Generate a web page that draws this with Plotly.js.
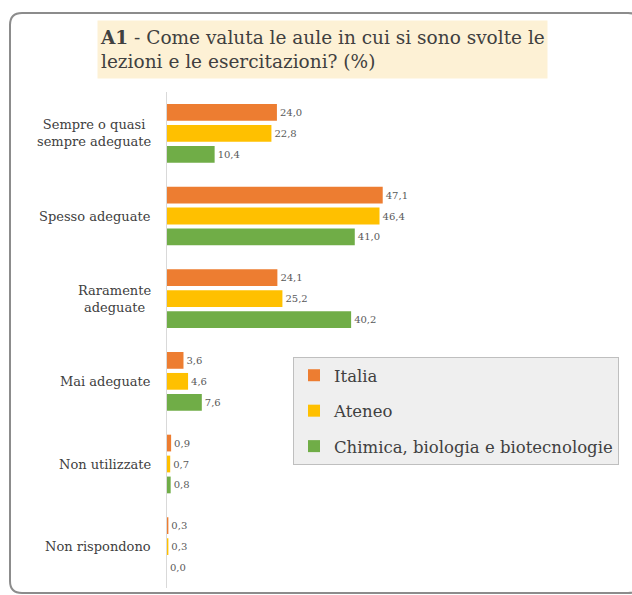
<!DOCTYPE html>
<html>
<head>
<meta charset="utf-8">
<script src="https://cdn.plot.ly/plotly-3.0.1.min.js"></script>
<style>html,body{margin:0;padding:0;background:#fff;}#chart{width:632px;height:595px;}</style>
</head>
<body>
<div id="chart"></div>
<script>
// Data
const categories = ["Sempre o quasi<br>sempre adeguate", "Spesso adeguate", "Raramente<br>adeguate", "Mai adeguate", "Non utilizzate", "Non rispondono"];
const seriesNames = ["Italia", "Ateneo", "Chimica, biologia e biotecnologie"];
const italia = [24.0, 47.1, 24.1, 3.6, 0.9, 0.3];
const ateneo = [22.8, 46.4, 25.2, 4.6, 0.7, 0.3];
const chimica = [10.4, 41.0, 40.2, 7.6, 0.8, 0.0];
const titleText = "<b>A1</b> - Come valuta le aule in cui si sono svolte le<br>lezioni e le esercitazioni? (%)";

const colors = ["#ED7D31", "#FFC000", "#70AD47"];
const FONT = "DejaVu Serif";
const fmt = v => v.toFixed(1).replace('.', ',');

const traces = [italia, ateneo, chimica].map((vals, i) => ({
  type: 'bar',
  orientation: 'h',
  name: seriesNames[i],
  legendgroup: 'g' + i,
  y: categories,
  x: vals,
  text: vals.map(fmt),
  textposition: 'outside',
  cliponaxis: false,
  textfont: {family: FONT, size: 10, color: '#595959'},
  marker: {color: colors[i]},
  hoverinfo: 'none'
}));

const W = 632, H = 595;
const mL = 167, mR = 12, mT = 92, mB = 7;
const pw = W - mL - mR, ph = H - mT - mB;
const px2x = p => (p - mL) / pw;
const py2y = p => (H - mB - p) / ph;

const annotations = categories.map(c => ({
  xref: 'paper', yref: 'y', x: 0, y: c,
  xanchor: 'right', yanchor: 'middle', xshift: -14,
  text: c, align: 'center', showarrow: false,
  font: {family: FONT, size: 13, color: '#404040'}
}));
annotations.push({
  xref: 'paper', yref: 'paper',
  x: px2x(97), y: py2y(20), xanchor: 'left', yanchor: 'top',
  width: 445, height: 53, align: 'left', valign: 'middle',
  bgcolor: '#FDF1D5', borderpad: 2,
  text: titleText, showarrow: false,
  font: {family: FONT, size: 18.5, color: '#404040'}
});

// rounded border path in paper coords
const bx0 = 10, bx1 = 640, by0 = 13, by1 = 593, r = 12;
const X = p => px2x(p), Y = p => py2y(p);
const borderPath = `M ${X(bx0 + r)},${Y(by0)} L ${X(bx1 - r)},${Y(by0)} Q ${X(bx1)},${Y(by0)} ${X(bx1)},${Y(by0 + r)} ` +
  `L ${X(bx1)},${Y(by1 - r)} Q ${X(bx1)},${Y(by1)} ${X(bx1 - r)},${Y(by1)} L ${X(bx0 + r)},${Y(by1)} ` +
  `Q ${X(bx0)},${Y(by1)} ${X(bx0)},${Y(by1 - r)} L ${X(bx0)},${Y(by0 + r)} Q ${X(bx0)},${Y(by0)} ${X(bx0 + r)},${Y(by0)} Z`;

const layout = {
  width: W, height: H,
  margin: {l: mL, r: mR, t: mT, b: mB, pad: 0},
  paper_bgcolor: '#ffffff', plot_bgcolor: '#ffffff',
  barmode: 'group', bargap: 0.24, bargroupgap: 0.2,
  showlegend: true,
  legend: {
    x: px2x(293), y: py2y(357), xanchor: 'left', yanchor: 'top',
    bgcolor: '#EFEFEF', bordercolor: '#BFBFBF', borderwidth: 1,
    font: {family: FONT, size: 16.5, color: '#404040'},
    tracegroupgap: 11, traceorder: 'grouped', itemwidth: 30
  },
  xaxis: {range: [0, pw / 4.58], visible: false, fixedrange: true},
  yaxis: {
    type: 'category', autorange: 'reversed', showticklabels: false,
    showline: true, linecolor: '#D9D9D9', linewidth: 1, ticks: '',
    showgrid: false, zeroline: false, fixedrange: true
  },
  annotations: annotations,
  shapes: [{
    type: 'path', xref: 'paper', yref: 'paper', path: borderPath,
    line: {color: '#8C8C8C', width: 2}, fillcolor: 'rgba(0,0,0,0)', layer: 'below'
  }]
};

Plotly.newPlot('chart', traces, layout, {displayModeBar: false, staticPlot: true});
</script>
</body>
</html>
